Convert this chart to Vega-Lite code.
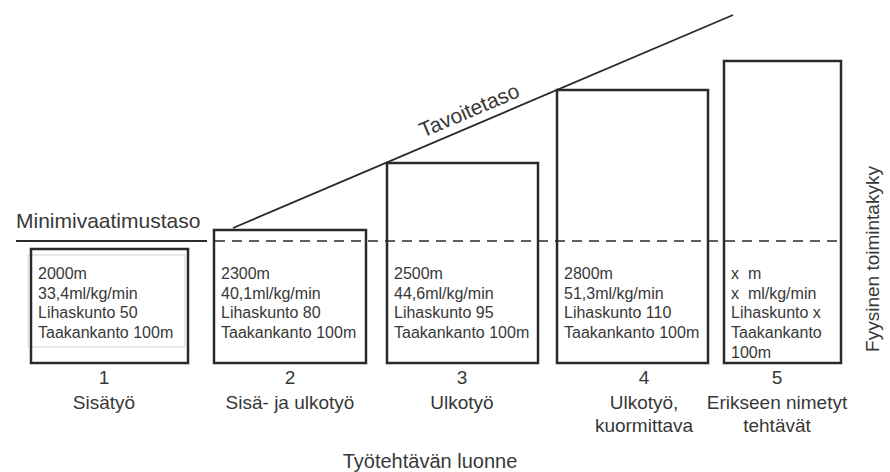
{
  "$schema": "https://vega.github.io/schema/vega-lite/v6.json",
  "width": 890,
  "height": 472,
  "autosize": {"type": "fit", "contains": "padding"},
  "padding": 0,
  "background": "white",
  "config": {"view": {"stroke": null}, "font": "Liberation Sans"},
  "datasets": {
    "boxes": [
      {"task": "1", "start": 31, "end": 188, "top": 114, "center": 104, "info": ["2000m", "33,4ml/kg/min", "Lihaskunto 50", "Taakankanto 100m"], "name": ["Sisätyö"]},
      {"task": "2", "start": 214, "end": 366, "top": 133, "center": 290, "info": ["2300m", "40,1ml/kg/min", "Lihaskunto 80", "Taakankanto 100m"], "name": ["Sisä- ja ulkotyö"]},
      {"task": "3", "start": 387, "end": 538, "top": 200, "center": 462, "info": ["2500m", "44,6ml/kg/min", "Lihaskunto 95", "Taakankanto 100m"], "name": ["Ulkotyö"]},
      {"task": "4", "start": 557, "end": 708, "top": 273, "center": 644, "info": ["2800m", "51,3ml/kg/min", "Lihaskunto 110", "Taakankanto 100m"], "name": ["Ulkotyö,", "kuormittava"]},
      {"task": "5", "start": 724, "end": 841, "top": 302, "center": 777, "info": ["x\u00a0\u00a0m", "x\u00a0\u00a0ml/kg/min", "Lihaskunto x", "Taakankanto", "100m"], "name": ["Erikseen nimetyt", "tehtävät"]}
    ],
    "solidLines": [
      {"line": "Minimivaatimustaso", "start": 16, "end": 207, "from": 122, "to": 122},
      {"line": "Tavoitetaso", "start": 233, "end": 733, "from": 135, "to": 348}
    ],
    "dashedLines": [
      {"line": "Minimivaatimustaso", "start": 215, "end": 842, "from": 122, "to": 122}
    ],
    "ghost": [
      {"start": 28, "end": 185, "from": 16, "to": 108}
    ]
  },
  "layer": [
    {
      "data": {"name": "ghost"},
      "mark": {"type": "rect", "filled": false, "stroke": "#d4d4d4", "strokeWidth": 1},
      "encoding": {
        "x": {"field": "start", "type": "quantitative", "scale": {"domain": [0, 890], "nice": false, "zero": false}, "axis": null},
        "x2": {"field": "end"},
        "y": {"field": "from", "type": "quantitative", "scale": {"domain": [-109, 363], "nice": false, "zero": false}, "axis": null},
        "y2": {"field": "to"}
      }
    },
    {
      "data": {"name": "boxes"},
      "mark": {"type": "rect", "filled": false, "stroke": "#2a2a2a", "strokeWidth": 2.5},
      "encoding": {
        "x": {"field": "start", "type": "quantitative", "scale": {"domain": [0, 890], "nice": false, "zero": false}, "axis": null},
        "x2": {"field": "end"},
        "y": {"field": "top", "type": "quantitative", "scale": {"domain": [-109, 363], "nice": false, "zero": false}, "axis": null},
        "y2": {"datum": 0}
      }
    },
    {
      "data": {"name": "solidLines"},
      "mark": {"type": "rule", "stroke": "#2a2a2a", "strokeWidth": 1.8},
      "encoding": {
        "x": {"field": "start", "type": "quantitative", "scale": {"domain": [0, 890], "nice": false, "zero": false}, "axis": null},
        "x2": {"field": "end"},
        "y": {"field": "from", "type": "quantitative", "scale": {"domain": [-109, 363], "nice": false, "zero": false}, "axis": null},
        "y2": {"field": "to"}
      }
    },
    {
      "data": {"name": "dashedLines"},
      "mark": {"type": "rule", "stroke": "#2a2a2a", "strokeWidth": 1.6, "strokeDash": [10, 7]},
      "encoding": {
        "x": {"field": "start", "type": "quantitative", "scale": {"domain": [0, 890], "nice": false, "zero": false}, "axis": null},
        "x2": {"field": "end"},
        "y": {"field": "from", "type": "quantitative", "scale": {"domain": [-109, 363], "nice": false, "zero": false}, "axis": null},
        "y2": {"field": "to"}
      }
    },
    {
      "data": {"name": "boxes"},
      "mark": {"type": "text", "align": "left", "baseline": "top", "dx": 7, "fontSize": 16, "lineHeight": 19.7, "fill": "#383838"},
      "encoding": {
        "x": {"field": "start", "type": "quantitative", "scale": {"domain": [0, 890], "nice": false, "zero": false}, "axis": null},
        "y": {"datum": 97, "type": "quantitative", "scale": {"domain": [-109, 363], "nice": false, "zero": false}, "axis": null},
        "text": {"field": "info"}
      }
    },
    {
      "data": {"name": "boxes"},
      "mark": {"type": "text", "align": "center", "baseline": "middle", "fontSize": 19, "fill": "#383838"},
      "encoding": {
        "x": {"field": "center", "type": "quantitative", "scale": {"domain": [0, 890], "nice": false, "zero": false}, "axis": null},
        "y": {"datum": -15, "type": "quantitative", "scale": {"domain": [-109, 363], "nice": false, "zero": false}, "axis": null},
        "text": {"field": "task"}
      }
    },
    {
      "data": {"name": "boxes"},
      "mark": {"type": "text", "align": "center", "baseline": "top", "fontSize": 19, "lineHeight": 23, "fill": "#383838"},
      "encoding": {
        "x": {"field": "center", "type": "quantitative", "scale": {"domain": [0, 890], "nice": false, "zero": false}, "axis": null},
        "y": {"datum": -31, "type": "quantitative", "scale": {"domain": [-109, 363], "nice": false, "zero": false}, "axis": null},
        "text": {"field": "name"}
      }
    },
    {
      "data": {"values": [{"label": "Minimivaatimustaso", "pos": 16, "level": 135}]},
      "mark": {"type": "text", "align": "left", "baseline": "alphabetic", "fontSize": 21, "fill": "#383838"},
      "encoding": {
        "x": {"field": "pos", "type": "quantitative", "scale": {"domain": [0, 890], "nice": false, "zero": false}, "axis": null},
        "y": {"field": "level", "type": "quantitative", "scale": {"domain": [-109, 363], "nice": false, "zero": false}, "axis": null},
        "text": {"field": "label"}
      }
    },
    {
      "data": {"values": [{"label": "Tavoitetaso", "pos": 472, "level": 246}]},
      "mark": {"type": "text", "align": "center", "baseline": "alphabetic", "fontSize": 21, "angle": -23, "fill": "#383838"},
      "encoding": {
        "x": {"field": "pos", "type": "quantitative", "scale": {"domain": [0, 890], "nice": false, "zero": false}, "axis": null},
        "y": {"field": "level", "type": "quantitative", "scale": {"domain": [-109, 363], "nice": false, "zero": false}, "axis": null},
        "text": {"field": "label"}
      }
    },
    {
      "data": {"values": [{"label": "Työtehtävän luonne", "pos": 430, "level": -105}]},
      "mark": {"type": "text", "align": "center", "baseline": "alphabetic", "fontSize": 20, "fill": "#383838"},
      "encoding": {
        "x": {"field": "pos", "type": "quantitative", "scale": {"domain": [0, 890], "nice": false, "zero": false}, "axis": null},
        "y": {"field": "level", "type": "quantitative", "scale": {"domain": [-109, 363], "nice": false, "zero": false}, "axis": null},
        "text": {"field": "label"}
      }
    },
    {
      "data": {"values": [{"label": "Fyysinen toimintakyky", "pos": 873, "level": 104}]},
      "mark": {"type": "text", "align": "center", "baseline": "middle", "fontSize": 19, "angle": -90, "fill": "#383838"},
      "encoding": {
        "x": {"field": "pos", "type": "quantitative", "scale": {"domain": [0, 890], "nice": false, "zero": false}, "axis": null},
        "y": {"field": "level", "type": "quantitative", "scale": {"domain": [-109, 363], "nice": false, "zero": false}, "axis": null},
        "text": {"field": "label"}
      }
    }
  ]
}
